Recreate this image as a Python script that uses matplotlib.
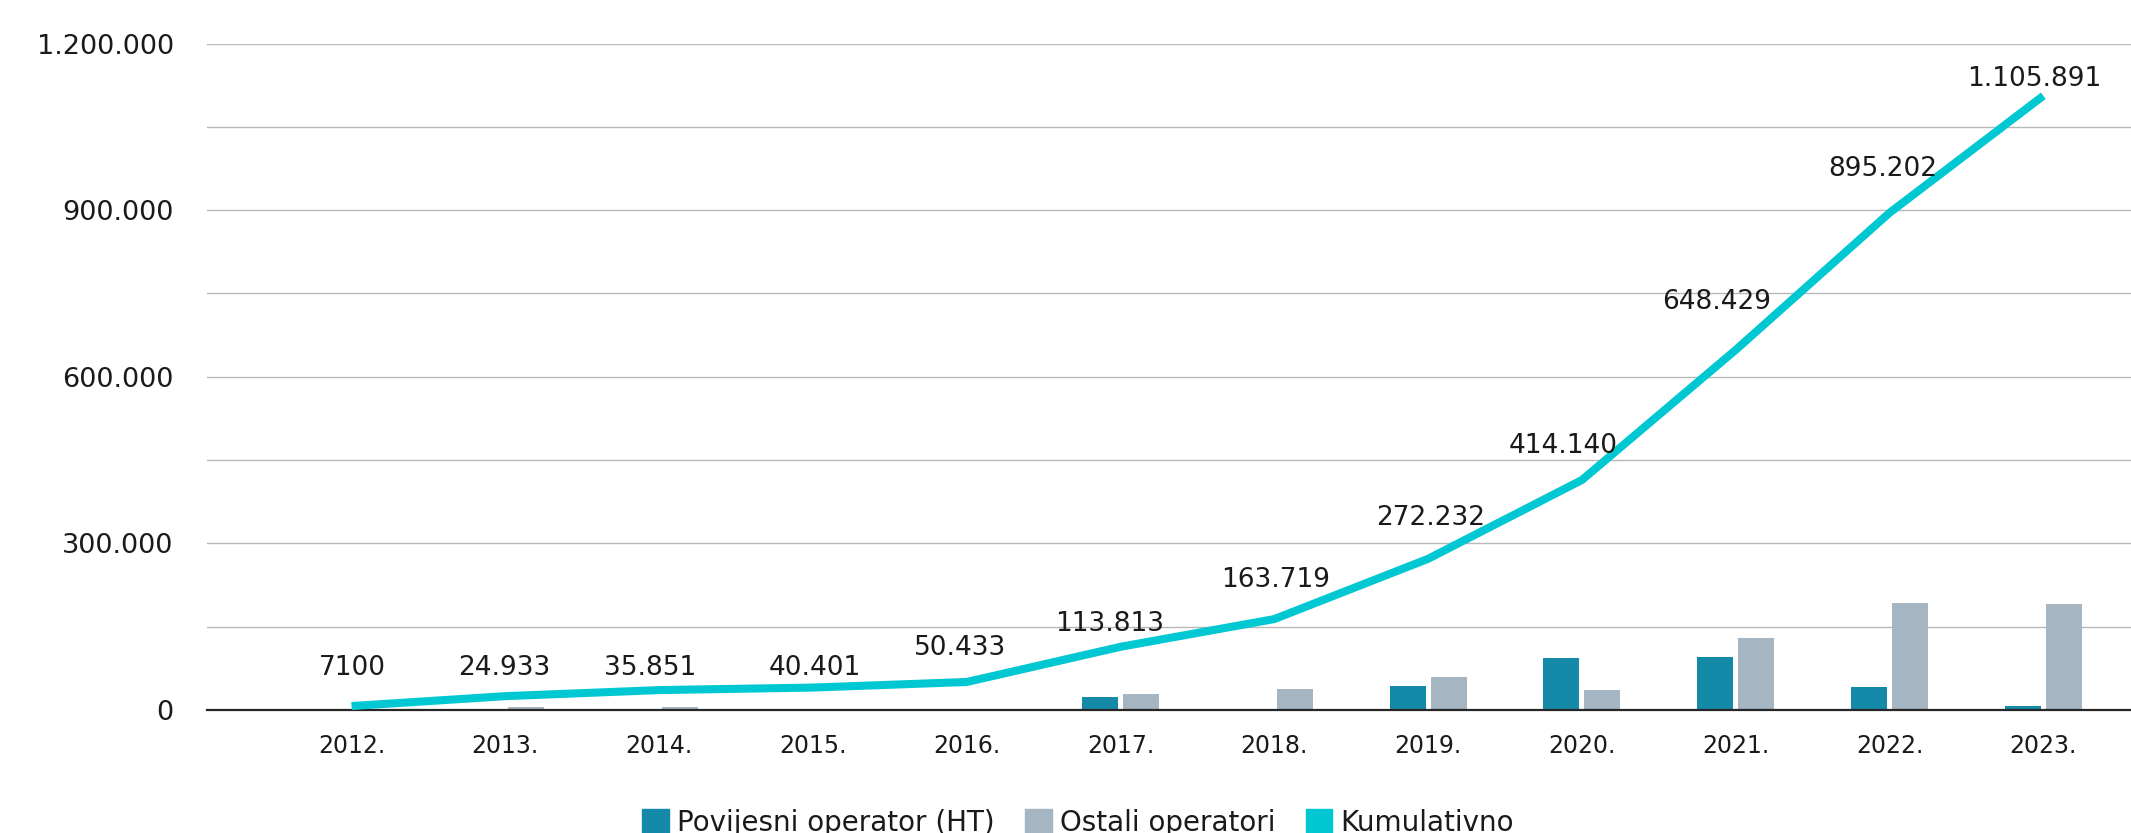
import numpy as np
import matplotlib
matplotlib.use("Agg")
import matplotlib.pyplot as plt
from matplotlib.ticker import FuncFormatter
from matplotlib.patches import Patch

# ---- data ----
years = ["2012.", "2013.", "2014.", "2015.", "2016.", "2017.",
         "2018.", "2019.", "2020.", "2021.", "2022.", "2023."]
ht = [0, 0, 0, 0, 0, 23000, 0, 43000, 93500, 95500, 41500, 7000]
ostali = [0, 6000, 6000, 0, 0, 29000, 38000, 59500, 36000, 130000, 192500, 191000]
kumulativno = [7100, 24933, 35851, 40401, 50433, 113813,
               163719, 272232, 414140, 648429, 895202, 1105891]
series_names = ["Povijesni operator (HT)", "Ostali operatori", "Kumulativno"]

# ---- style ----
C_HT = "#1489A8"
C_OST = "#A6B5C2"
C_CUM = "#00C8D2"
TXT = "#1a1a1a"
plt.rcParams["font.family"] = ["DejaVu Sans"]

W, H = 2131, 833
fig = plt.figure(figsize=(W / 100, H / 100), dpi=100)
ax = fig.add_axes([207 / W, 1 - 710 / H, 1 - 207 / W, (710 - 43.5) / H])

x = np.arange(len(years))
bw = 0.234
off = 0.133
ax.bar(x - off, ht, width=bw, color=C_HT, zorder=2)
ax.bar(x + off, ostali, width=bw, color=C_OST, zorder=2)
ax.plot(x, kumulativno, color=C_CUM, lw=5.8, zorder=3, solid_capstyle="butt")


def fmt_num(v):
    v = int(round(v))
    if v < 10000:
        return str(v)
    return f"{v:,}".replace(",", ".")


# label placement (pixels relative to point)
label_dx = [1, -1, -9, 2, -7, -11, 1, 2, -19, -19, -7, -9]
label_dy = [41, 31, 25, 23, 37, 26, 42, 44, 37, 51, 47, 20]
for xi, v, dx, dy in zip(x, kumulativno, label_dx, label_dy):
    ax.annotate(fmt_num(v), (xi, v), xytext=(dx, dy - 10),
                textcoords="offset pixels", ha="center", va="baseline",
                fontsize=19, color=TXT, zorder=4)

ax.set_xlim(-0.94, 11.57)
ax.set_ylim(0, 1200000)
ax.set_yticks(np.arange(0, 1200001, 150000))
ax.yaxis.set_major_formatter(FuncFormatter(
    lambda v, p: "" if int(round(v)) % 300000 else (fmt_num(v) if v > 0 else "0")))
ax.set_xticks(x)
ax.set_xticklabels(years)
ax.tick_params(axis="y", length=0, pad=24, labelsize=19.5, labelcolor=TXT)
ax.tick_params(axis="x", length=0, pad=17, labelsize=17, labelcolor=TXT)

ax.yaxis.grid(True, color="#B8B8B8", lw=1.0, zorder=0)
ax.set_axisbelow(True)
for s in ["left", "right", "top"]:
    ax.spines[s].set_visible(False)
ax.spines["bottom"].set_color("#262626")
ax.spines["bottom"].set_linewidth(1.6)
ax.spines["bottom"].set_zorder(2.5)

handles = [Patch(color=C_HT), Patch(color=C_OST), Patch(color=C_CUM)]
fig.legend(handles, series_names, loc="center", bbox_to_anchor=(0.506, 0.0125),
           ncol=3, frameon=False, fontsize=20, handlelength=0.95, handleheight=1.0,
           handletextpad=0.3, columnspacing=1.1, borderpad=0, labelcolor=TXT)

fig.savefig("out.png", dpi=100)
